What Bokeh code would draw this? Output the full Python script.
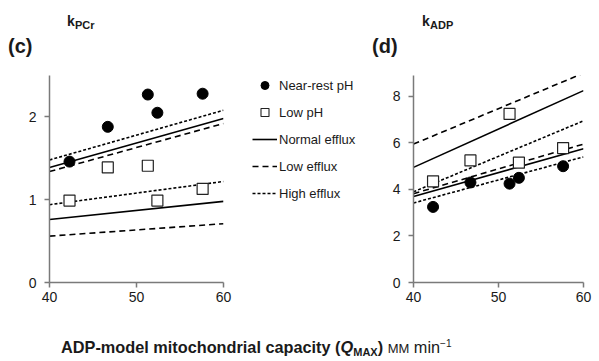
from bokeh.plotting import figure
from bokeh.layouts import row, column
from bokeh.models import Legend, LegendItem, Range1d, Div, ColumnDataSource
from bokeh.embed import file_html
from bokeh.resources import INLINE

# ---- data ----
qmax = [42.3, 46.7, 51.3, 52.4, 57.6]
kpcr_rest = [1.46, 1.88, 2.27, 2.05, 2.28]
kpcr_low = [0.99, 1.39, 1.41, 0.99, 1.13]
kadp_rest = [3.25, 4.30, 4.25, 4.50, 5.00]
kadp_low = [4.35, 5.25, 7.25, 5.15, 5.78]

line_x = [40, 60]
# kPCr model lines (near-rest pH group, low pH group)
kpcr_rest_normal = [1.39, 1.98]
kpcr_rest_low = [1.34, 1.92]
kpcr_rest_high = [1.48, 2.08]
kpcr_lowph_normal = [0.76, 0.98]
kpcr_lowph_low = [0.56, 0.71]
kpcr_lowph_high = [0.94, 1.22]
# kADP model lines (low pH group, near-rest pH group)
kadp_lowph_normal = [4.95, 8.25]
kadp_lowph_low = [5.95, 9.00]
kadp_lowph_high = [3.90, 6.95]
kadp_rest_normal = [3.70, 5.75]
kadp_rest_low = [3.82, 5.95]
kadp_rest_high = [3.42, 5.40]

x_ticks = [40, 50, 60]
kpcr_ticks = [0, 1, 2]
kadp_ticks = [0, 2, 4, 6, 8]

legend_labels = ["Near-rest pH", "Low pH", "Normal efflux", "Low efflux", "High efflux"]

FONT = "Liberation Sans"
AXIS_COLOR = "#7a7a7a"
TEXT_COLOR = "#1a1a1a"
LW = 1.6
LONG_DASH = "6 4"
SHORT_DASH = "3 2"
FIG_H = 267


def style_fig(p, yticks):
    p.xgrid.visible = False
    p.ygrid.visible = False
    p.outline_line_color = None
    p.background_fill_color = None
    p.border_fill_color = None
    for ax in (p.xaxis[0], p.yaxis[0]):
        ax.axis_line_color = AXIS_COLOR
        ax.axis_line_width = 1.5
        ax.major_tick_line_color = AXIS_COLOR
        ax.major_tick_line_width = 1.5
        ax.major_tick_out = 5
        ax.major_tick_in = 0
        ax.minor_tick_line_color = None
        ax.major_label_text_font = FONT
        ax.major_label_text_font_size = "14px"
        ax.major_label_text_color = TEXT_COLOR
    p.xaxis.major_label_standoff = 4
    p.yaxis.major_label_standoff = 8
    p.xaxis.ticker = x_ticks
    p.yaxis.ticker = yticks


def panel(width, left, right, ymax, yticks):
    p = figure(width=width, height=FIG_H, output_backend="svg", toolbar_location=None,
               x_range=Range1d(40, 60), y_range=Range1d(0, ymax),
               min_border_left=left, min_border_right=right,
               min_border_top=5, min_border_bottom=30)
    style_fig(p, yticks)
    return p


def draw_lines(p, normal, low, high):
    p.line(line_x, normal, line_color="black", line_width=LW)
    p.line(line_x, low, line_color="black", line_width=LW, line_dash=LONG_DASH)
    p.line(line_x, high, line_color="black", line_width=LW, line_dash=SHORT_DASH)


def draw_points(p, rest, low):
    p.scatter(qmax, rest, marker="circle", size=11, fill_color="black", line_color="black")
    p.scatter(qmax, low, marker="square", size=11, fill_color="white", line_color="#222222",
              line_width=1.2)


# ---- panel (c) kPCr ----
pc = panel(235, 49, 12, 2.5, kpcr_ticks)
draw_lines(pc, kpcr_rest_normal, kpcr_rest_low, kpcr_rest_high)
draw_lines(pc, kpcr_lowph_normal, kpcr_lowph_low, kpcr_lowph_high)
draw_points(pc, kpcr_rest, kpcr_low)

# ---- panel (d) kADP ----
pd = panel(229, 43, 16, 8.9, kadp_ticks)
draw_lines(pd, kadp_lowph_normal, kadp_lowph_low, kadp_lowph_high)
draw_lines(pd, kadp_rest_normal, kadp_rest_low, kadp_rest_high)
draw_points(pd, kadp_rest, kadp_low)

# ---- legend panel ----
pl = figure(width=135, height=FIG_H, output_backend="svg", toolbar_location=None,
            x_axis_location=None, y_axis_location=None,
            min_border_left=17, min_border_top=30, min_border_right=0, min_border_bottom=0,
            x_range=Range1d(0, 1), y_range=Range1d(0, 1))
pl.xgrid.visible = False
pl.ygrid.visible = False
pl.outline_line_color = None
pl.background_fill_color = None
pl.border_fill_color = None
# off-range placeholder renderers, used only to supply legend glyphs
hidden = ColumnDataSource(data=dict(x=[-5, -4], y=[-5, -5]))
r1 = pl.scatter("x", "y", source=hidden, marker="circle", size=8, fill_color="black", line_color="black")
r2 = pl.scatter("x", "y", source=hidden, marker="square", size=8, fill_color="white",
                line_color="#222222", line_width=1.1)
r3 = pl.line("x", "y", source=hidden, line_color="black", line_width=LW)
r4 = pl.line("x", "y", source=hidden, line_color="black", line_width=LW, line_dash=LONG_DASH)
r5 = pl.line("x", "y", source=hidden, line_color="black", line_width=LW, line_dash=SHORT_DASH)
legend = Legend(items=[LegendItem(label=lab, renderers=[r])
                       for lab, r in zip(legend_labels, [r1, r2, r3, r4, r5])],
                location="top_left", margin=0, padding=0, spacing=7,
                glyph_width=25, glyph_height=20, label_height=20, label_standoff=2,
                label_text_font=FONT, label_text_font_size="13px", label_text_color=TEXT_COLOR,
                border_line_color=None, background_fill_alpha=0)
pl.add_layout(legend)

# ---- panel titles ----
def span(left, top, size, html, bold=True):
    weight = "bold" if bold else "normal"
    return (f'<span style="position:absolute; left:{left}px; top:{top}px; font-size:{size}px; '
            f'line-height:{size}px; font-weight:{weight}; white-space:nowrap;">{html}</span>')

titles = Div(
    text=(
        f"<div style=\"position:relative; width:599px; height:45px; font-family:'{FONT}'; color:{TEXT_COLOR};\">"
        + span(8, 36, 20, "(c)")
        + span(67, 14, 14, "k")
        + span(75, 20, 11, "PCr")
        + span(372, 36, 20, "(d)")
        + span(422, 14, 14, "k")
        + span(430, 20, 11, "ADP")
        + "</div>"
    ),
    width=599, height=45, margin=(0, 0, 0, 0),
)

xlabel = Div(
    text=(
        '<div style="padding-left:61px; padding-top:26px; white-space:nowrap; line-height:18px; '
        f"font-family:'{FONT}'; font-size:16.3px; color:{TEXT_COLOR};\">"
        '<b>ADP-model mitochondrial capacity (<i>Q</i>'
        '<span style="font-size:11px; vertical-align:-3px; line-height:0">MAX</span>)</b>'
        ' <span style="font-size:13px"><span style="text-transform:uppercase">m</span>M</span>'
        ' min<span style="font-size:10px; vertical-align:6px; line-height:0">\u22121</span></div>'
    ),
    width=599, height=49, margin=(0, 0, 0, 0),
)

layout = column(titles, row(pc, pl, pd, spacing=0), xlabel, spacing=0)

open("out.html", "w").write(file_html(layout, INLINE))
